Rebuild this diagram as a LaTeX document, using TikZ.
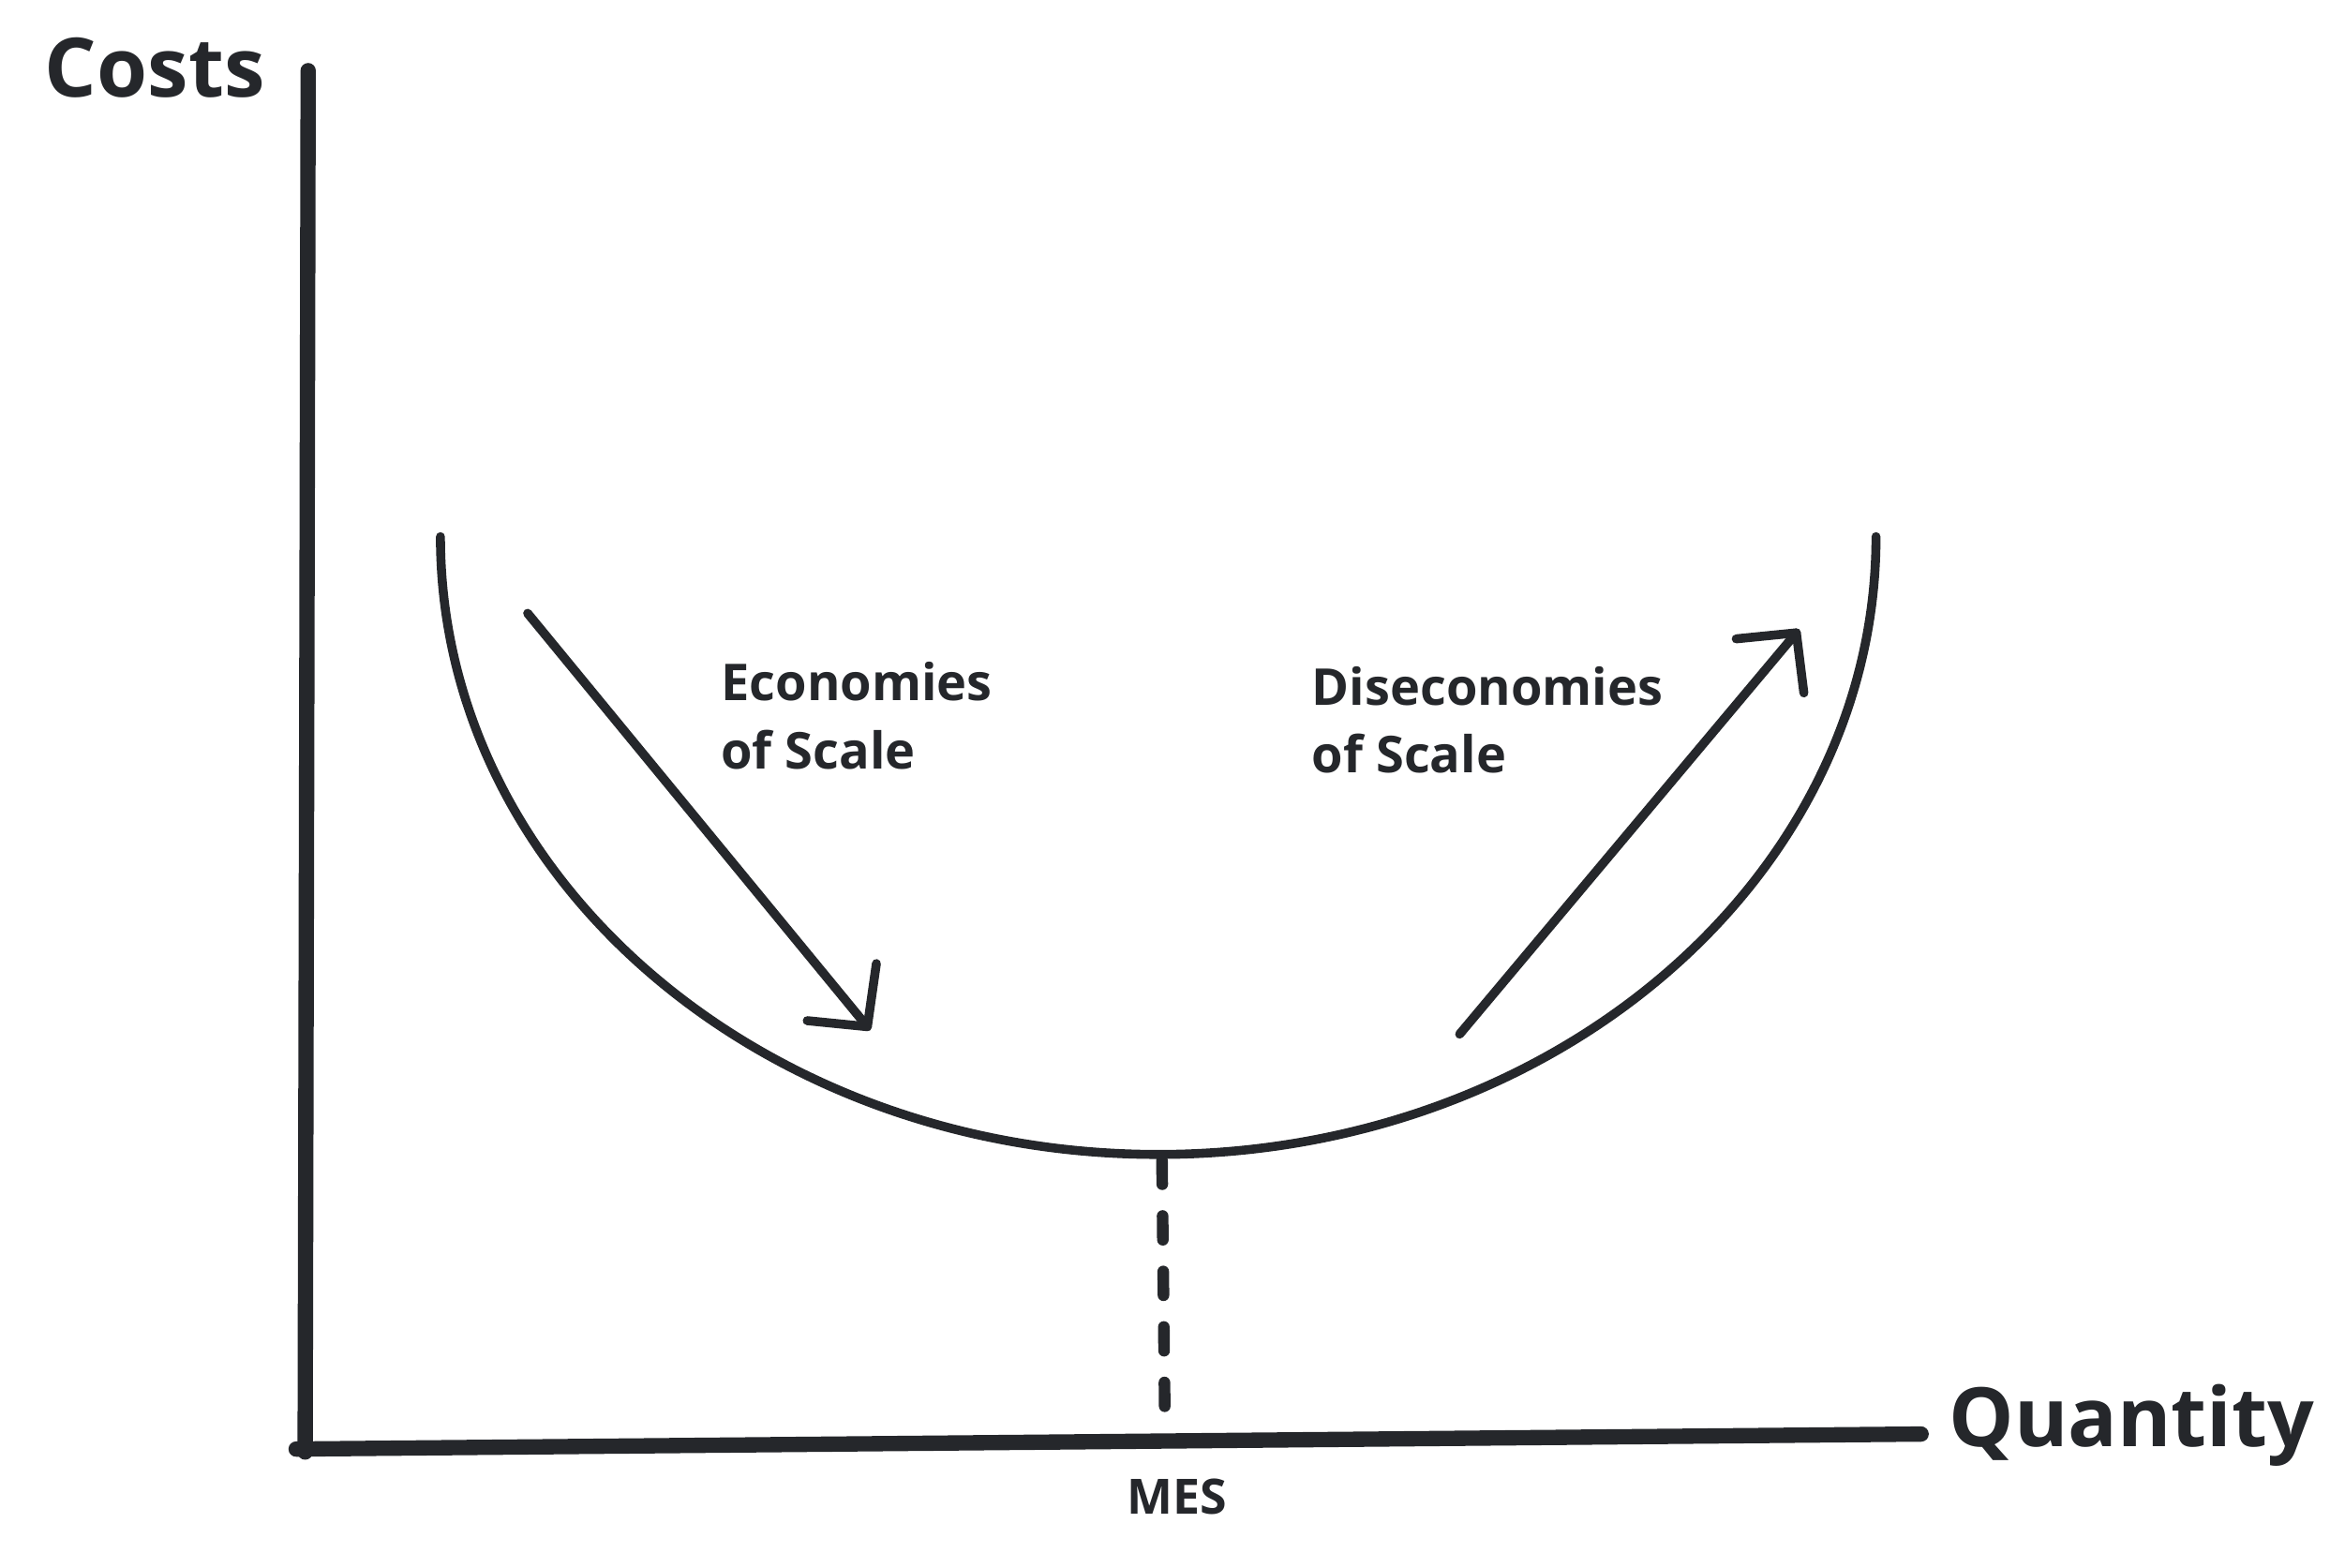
\documentclass[tikz,border=0pt]{standalone}
\usepackage{fontspec}
\setmainfont{Open Sans}
\begin{document}
\begin{tikzpicture}[x=0.01cm,y=-0.01cm,
  axis/.style={line width=2.9pt,color=ink,line cap=round},
  curve/.style={line width=1.7pt,color=ink,line cap=round,line join=round},
  lbl/.style={color=ink,font=\fontsize{9.6pt}{12.8pt}\selectfont\bfseries,align=left,anchor=north west,inner sep=0pt}]
\definecolor{ink}{HTML}{25272B}
\useasboundingbox (0,0) rectangle (1560,1043);
% axes
\coordinate (ytop) at (205,47);
\coordinate (orig) at (203,966);
\coordinate (xend) at (1278,954);
\draw[axis] (ytop) -- (orig);
\draw[axis] (197,964) -- (xend);
% curve
\coordinate (cl) at (293,357);
\draw[curve] (cl) arc[start angle=180,end angle=0,x radius=477.5,y radius=411];
% dashed MES
\coordinate (cmin) at (773,772);
\coordinate (mesx) at (775,952);
\draw[line width=2.2pt,color=ink,line cap=round,dash pattern=on 4.5pt off 6pt] (cmin) -- (mesx);
% arrows
\coordinate (a1s) at (351,408);
\coordinate (a1t) at (577,683);
\draw[curve] (a1s) -- (a1t);
\draw[curve] (537,679) -- (a1t) -- (583,641);
\coordinate (a2s) at (971,688);
\coordinate (a2t) at (1195,421);
\draw[curve] (a2s) -- (a2t);
\draw[curve] (1155,425) -- (a2t) -- (1200,461);
% labels
\node[color=ink,font=\fontsize{15.5pt}{18pt}\selectfont\bfseries] (costs) at (103,45) {Costs};
\node[color=ink,font=\fontsize{15.5pt}{18pt}\selectfont\bfseries] (qty) at (1418,948) {Quantity};
\node[lbl] (eco) at (479,440) {Economies\\of Scale};
\node[lbl] (dis) at (872,443) {Diseconomies\\of Scale};
\node[color=ink,font=\fontsize{9.2pt}{11pt}\selectfont\bfseries] (mes) at (783,996) {MES};
\end{tikzpicture}
\end{document}
